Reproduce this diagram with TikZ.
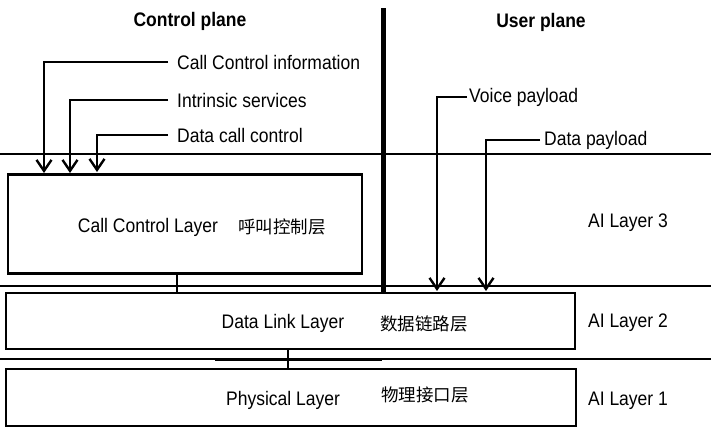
\documentclass[tikz,border=0pt]{standalone}
\usepackage{fontspec}
\setmainfont{Liberation Sans}
\newfontfamily\cjk{Noto Sans CJK SC}
\usetikzlibrary{arrows.meta}

\begin{document}
\begin{tikzpicture}[x=1pt, y=-1pt,
  layer/.style={draw, line width=2.4pt, inner sep=0pt},
  txt/.style={font=\fontsize{17.5}{20}\selectfont, inner sep=0pt, transform shape, yscale=1.12},
  cn/.style={font=\cjk\fontsize{17.5}{20}\selectfont, inner sep=0pt},
  lbl/.style={txt, anchor=west, inner sep=2pt},
  flow/.style={line width=2.4pt, -{Straight Barb[length=11pt, width=15pt]}},
  sep/.style={line width=1.2pt}]
  \useasboundingbox (0,0) rectangle (711,434);

  % Define layer boxes
  \node[layer, minimum width=354pt, minimum height=99pt] (cc) at (185,224) {};
  \node[layer, minimum width=569pt, minimum height=56pt] (dl) at (290.5,321) {};
  \node[layer, minimum width=570pt, minimum height=57pt] (ph) at (291,397.5) {};

  % Box texts
  \node[txt] (cctxt) at (148,227) {Call Control Layer};
  \node[cn] (cccn) at (282,227) {呼叫控制层};
  \node[txt] (dltxt) at (283,323) {Data Link Layer};
  \node[cn] (dlcn) at (424,324) {数据链路层};
  \node[txt] (phtxt) at (283,400) {Physical Layer};
  \node[cn] (phcn) at (425,395) {物理接口层};

  % Layer names on the right
  \node[txt] (ai3) at (628,223) {AI Layer 3};
  \node[txt] (ai2) at (628,323) {AI Layer 2};
  \node[txt] (ai1) at (628,401) {AI Layer 1};

  % Plane titles
  \node[txt, font=\bfseries\fontsize{17.5}{20}\selectfont] (cp) at (190,21) {Control plane};
  \node[txt, font=\bfseries\fontsize{17.5}{20}\selectfont] (up) at (541,22) {User plane};

  % Separator lines
  \draw[sep] (0,154) -- (711,154);
  \draw[sep] (0,286) -- (711,286);
  \draw[sep] (0,359) -- (711,359);
  \draw[line width=3pt] (215,359) -- (382,359);

  % Plane divider
  \coordinate (top) at (383,8);
  \draw[line width=5pt] (top) -- ([yshift=-1pt]top |- dl.north);

  % Links between layers
  \coordinate (l1) at (177,0);
  \coordinate (l2) at (288,0);
  \draw[sep] (cc.south -| l1) -- (dl.north -| l1);
  \draw[sep] (dl.south -| l2) -- (ph.north -| l2);

  % Control plane inputs
  \node[lbl] (cci) at (175,62) {Call Control information};
  \node[lbl] (isv) at (175,100) {Intrinsic services};
  \node[lbl] (dcc) at (175,135) {Data call control};
  \coordinate (t1) at (44,173);
  \coordinate (t2) at (70,173);
  \coordinate (t3) at (97,172);
  \draw[flow] ([xshift=-7pt]cci.west) -| (t1);
  \draw[flow] ([xshift=-7pt]isv.west) -| (t2);
  \draw[flow] ([xshift=-7pt]dcc.west) -| (t3);

  % User plane inputs
  \node[lbl] (vp) at (467,97) {Voice payload};
  \node[lbl] (dp) at (542,140) {Data payload};
  \coordinate (t4) at (437,291);
  \coordinate (t5) at (486,291);
  \draw[flow] (vp.west) -| (t4);
  \draw[flow] ([xshift=-2pt]dp.west) -| (t5);
\end{tikzpicture}
\end{document}
